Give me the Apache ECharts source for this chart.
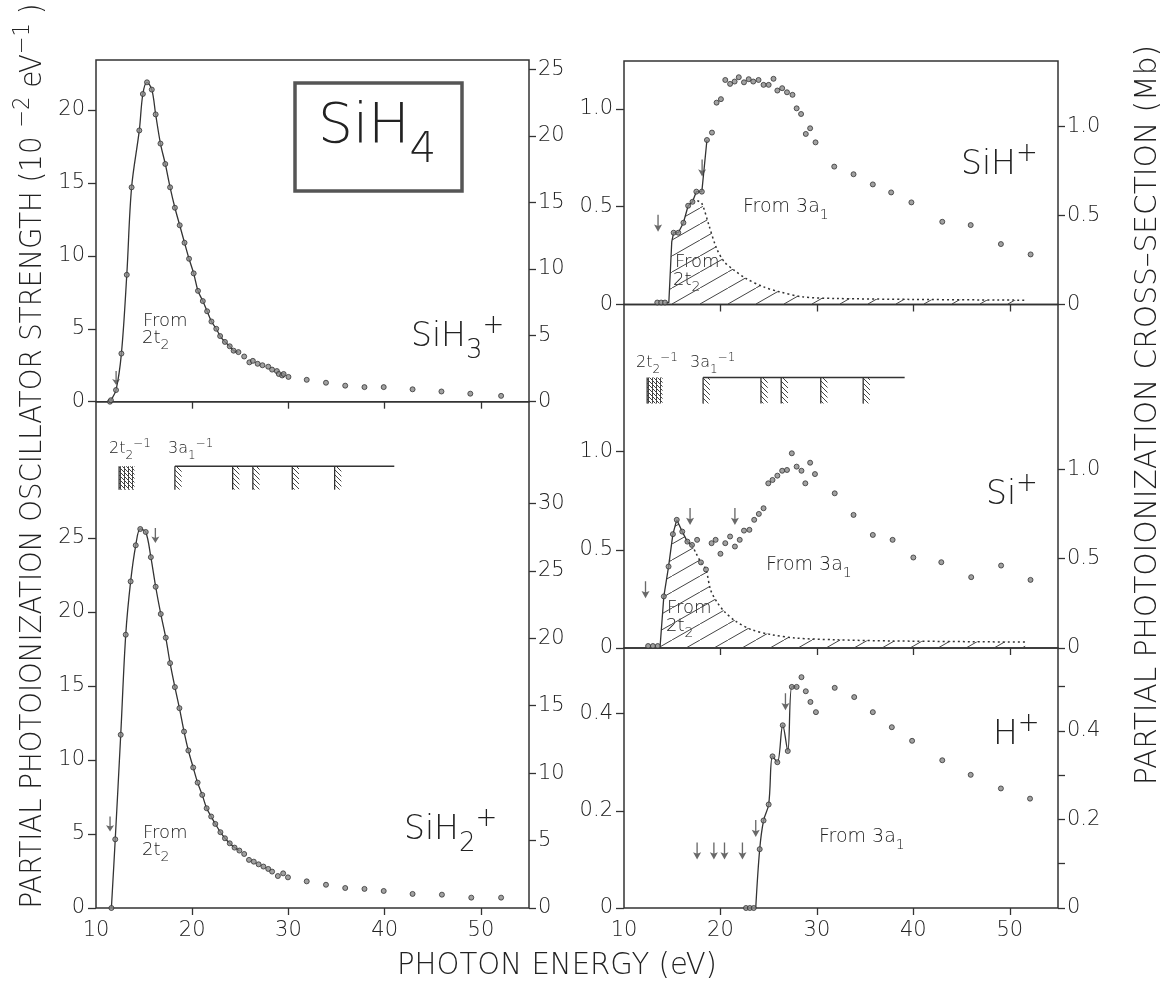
<!DOCTYPE html>
<html>
<head>
<meta charset="utf-8">
<script src="https://cdn.jsdelivr.net/npm/echarts@6/dist/echarts.min.js"></script>
<style>
  html, body { margin: 0; background: #fff; }
  #main { width: 1171px; height: 987px; }
</style>
</head>
<body>
<div id="main"></div>
<script>
// ---------------- data (photon energy in eV) ----------------
// SiH3+  (10^-2 eV^-1)
const siH3E = [11.45, 11.55, 12.08, 12.64, 13.2, 13.7, 14.5, 14.87, 15.3, 15.8, 16.2, 16.7, 17.2, 17.7, 18.2, 18.7,
  19.2, 19.67, 20.15, 20.6, 21.1, 21.55, 22.0, 22.5, 22.9, 23.4, 23.9, 24.3, 24.8, 25.4, 25.94, 26.3, 26.8, 27.3,
  27.9, 28.3, 28.8, 29.0, 29.35, 29.5, 30.0, 31.9, 33.9, 35.9, 37.9, 39.9, 42.9, 45.9, 48.9, 52.1];
const siH3V = [0, 0.1, 0.8, 3.3, 8.7, 14.7, 18.6, 21.1, 21.9, 21.4, 19.7, 17.7, 16.3, 14.7, 13.3, 12.1,
  10.9, 9.8, 8.8, 7.6, 6.9, 6.2, 5.5, 5.0, 4.5, 4.1, 3.8, 3.5, 3.4, 3.1, 2.7, 2.8, 2.6, 2.5,
  2.4, 2.2, 2.1, 1.9, 1.8, 1.9, 1.7, 1.5, 1.3, 1.1, 1.0, 1.0, 0.85, 0.7, 0.55, 0.4];
const siH3LineCount = 29;
const siH3Arrows = [[12.09, 1.14]];

// SiH2+
const siH2E = [11.6, 12.0, 12.57, 13.09, 13.6, 14.13, 14.6, 15.17, 15.7, 16.2, 16.73, 17.25, 17.7, 18.2, 18.67,
  19.15, 19.6, 20.1, 20.56, 21.04, 21.5, 21.97, 22.4, 22.93, 23.4, 23.9, 24.4, 24.9, 25.4, 25.9, 26.4, 26.9,
  27.4, 27.9, 28.3, 28.9, 29.45, 29.95, 31.9, 33.9, 35.9, 37.9, 39.9, 42.9, 45.95, 49.0, 52.1];
const siH2V = [0, 4.64, 11.7, 18.46, 22.06, 24.5, 25.6, 25.4, 23.7, 21.7, 19.86, 18.26, 16.54, 14.92, 13.5,
  11.92, 10.64, 9.49, 8.47, 7.64, 6.74, 6.18, 5.68, 5.12, 4.71, 4.37, 4.08, 3.88, 3.65, 3.25, 3.13, 2.95,
  2.8, 2.64, 2.46, 2.16, 2.34, 2.07, 1.8, 1.57, 1.35, 1.29, 1.15, 0.95, 0.9, 0.7, 0.7];
const siH2LineCount = 28;
const siH2Arrows = [[11.46, 5.16], [16.17, 24.66]];

// SiH+  (left axis in 10^-2 eV^-1)
const siHE = [13.45, 13.85, 14.25, 15.15, 15.63, 16.16, 16.65, 17.1, 17.5, 18.07, 18.6, 19.12, 19.6, 20.05, 20.5,
  21.0, 21.47, 21.9, 22.44, 22.93, 23.4, 23.95, 24.47, 25.0, 25.5, 25.9, 26.4, 26.9, 27.47, 27.9, 28.36, 28.85,
  29.3, 29.86, 31.8, 33.8, 35.8, 37.7, 39.8, 43.0, 45.95, 49.08, 52.16];
const siHV = [0.01, 0.01, 0.01, 0.367, 0.367, 0.418, 0.505, 0.525, 0.577, 0.577, 0.841, 0.879, 1.032, 1.05, 1.148,
  1.128, 1.14, 1.162, 1.136, 1.152, 1.14, 1.148, 1.123, 1.123, 1.154, 1.094, 1.106, 1.085, 1.072, 1.003, 0.974, 0.872,
  0.901, 0.829, 0.705, 0.666, 0.614, 0.573, 0.522, 0.423, 0.406, 0.309, 0.256];
const siHLineE = [14.3, 14.65, 14.95, 15.15, 15.63, 16.16, 16.65, 17.1, 17.5, 18.07, 18.6];
const siHLineV = [0.01, 0.01, 0.32, 0.367, 0.367, 0.418, 0.505, 0.525, 0.577, 0.577, 0.841];
// part coming from the 2t2 orbital (hatched); dotted from index 7
const siH2tE = [14.65, 14.95, 15.15, 15.63, 16.16, 16.65, 17.1, 17.6, 18.07, 18.8, 19.6, 20.4, 21.4, 22.65, 24.47,
  26.1, 28.5, 31.8, 40.0, 51.8];
const siH2tV = [0, 0.32, 0.367, 0.367, 0.418, 0.505, 0.525, 0.53, 0.517, 0.406, 0.287, 0.218, 0.176, 0.133, 0.09,
  0.065, 0.039, 0.031, 0.026, 0.022];
const siH2tDotFrom = 7;
const siHArrows = [[13.53, 0.372], [18.1, 0.654]];

// Si+
const siE = [12.5, 13.0, 13.5, 14.13, 14.62, 15.07, 15.47, 16.04, 16.57, 17.05, 17.58, 17.98, 18.5, 19.08, 19.5,
  20.0, 20.5, 21.0, 21.5, 22.0, 22.44, 23.0, 23.5, 23.98, 24.47, 24.96, 25.4, 25.9, 26.4, 26.9, 27.4, 27.9, 28.4,
  28.8, 29.3, 29.8, 31.85, 33.8, 35.8, 37.85, 40.0, 42.9, 46.0, 49.1, 52.15];
const siV = [0.01, 0.01, 0.01, 0.263, 0.415, 0.58, 0.653, 0.593, 0.542, 0.525, 0.551, 0.436, 0.4, 0.534, 0.551,
  0.48, 0.534, 0.568, 0.517, 0.551, 0.598, 0.602, 0.653, 0.683, 0.712, 0.839, 0.856, 0.878, 0.903, 0.907, 0.992,
  0.924, 0.903, 0.839, 0.944, 0.886, 0.788, 0.678, 0.576, 0.551, 0.461, 0.437, 0.361, 0.42, 0.347];
// 2t2 part: solid up to index 7, dotted after
const si2tE = [13.73, 14.13, 14.62, 15.07, 15.47, 16.04, 16.57, 17.05, 17.5, 17.98, 18.5, 18.97, 19.6, 20.4, 21.6,
  23.25, 25.3, 27.7, 31.8, 37.8, 51.6];
const si2tV = [0, 0.263, 0.415, 0.58, 0.653, 0.593, 0.542, 0.525, 0.48, 0.436, 0.4, 0.297, 0.237, 0.186, 0.136,
  0.093, 0.068, 0.051, 0.042, 0.036, 0.03];
const si2tSolidTo = 7;
const siArrows = [[12.23, 0.254], [16.85, 0.627], [21.5, 0.627]];

// H+
const hE = [22.65, 23.05, 23.45, 24.07, 24.47, 25.0, 25.4, 25.9, 26.46, 26.98, 27.4, 27.9, 28.4, 28.85, 29.33,
  29.9, 31.85, 33.87, 35.8, 37.77, 39.87, 43.0, 45.95, 49.08, 52.1];
const hV = [0, 0, 0, 0.121, 0.18, 0.213, 0.312, 0.30, 0.376, 0.323, 0.455, 0.455, 0.475, 0.446, 0.424,
  0.403, 0.453, 0.434, 0.403, 0.372, 0.344, 0.304, 0.274, 0.246, 0.225];
const hLineE = [23.66, 24.07, 24.47, 25.0, 25.4, 25.9, 26.46, 26.98, 27.4, 27.9];
const hLineV = [0, 0.121, 0.18, 0.213, 0.312, 0.30, 0.376, 0.323, 0.455, 0.455];
const hArrows = [[17.58, 0.1], [19.32, 0.1], [20.42, 0.1], [22.28, 0.1], [23.66, 0.146], [26.74, 0.407]];

// ionization bands (eV)
const band2t2 = [12.4, 14.0];
const band3a1 = [18.2, 24.2, 26.3, 30.4, 34.8];
const bandWidth = 0.7;
// [top, bottom, end of 3a1 line] in panel units
const bandsSiH2 = [29.84, 28.26, 41.0];
const bandsSi = [1.378, 1.246, 39.1];

// axes
const xTicks = [20, 30, 40, 50];
const xLabels = [10, 20, 30, 40, 50];
const leftMax = [23.43, 34.2, 1.245, 1.75, 0.535];
const leftTicks = [[0, 5, 10, 15, 20], [0, 5, 10, 15, 20, 25], [0, 0.5, 1.0], [0, 0.5, 1.0], [0, 0.2, 0.4]];
const rightTicks = [[0, 5, 10, 15, 20, 25], [0, 5, 10, 15, 20, 25, 30], [0, 0.5, 1.0], [0, 0.5, 1.0],
  [0, 0.1, 0.2, 0.3, 0.4, 0.5]];
const rightLabels = [[0, 5, 10, 15, 20, 25], [0, 5, 10, 15, 20, 25, 30], [0, 0.5, 1.0], [0, 0.5, 1.0], [0, 0.2, 0.4]];
const mbPerUnit = 1.0975; // sigma (Mb) = 109.75 df/dE

// ---------------- drawing ----------------
const FAM = '"DejaVu Sans", sans-serif';
const WEIGHT = 200;
const INK = '#222';
const zip = (xs, ys) => xs.map((x, i) => [x, ys[i]]);

function tile(w, h, draw) {
  const c = document.createElement('canvas');
  c.width = w; c.height = h;
  const g = c.getContext('2d');
  g.strokeStyle = '#444'; g.lineWidth = 1;
  draw(g, w, h);
  return c;
}
const areaHatch = { image: tile(28, 16, (g, w, h) => { g.beginPath(); g.moveTo(0, h); g.lineTo(w, 0); g.stroke(); }), repeat: 'repeat' };
const bandHatch = { image: tile(5, 5, (g, w, h) => { g.beginPath(); g.moveTo(0, 0); g.lineTo(w, h); g.stroke(); }), repeat: 'repeat' };
const denseHatch = { image: tile(4, 4, (g, w, h) => {
  g.beginPath(); g.moveTo(0.5, 0); g.lineTo(0.5, h); g.moveTo(0, 0); g.lineTo(w, h); g.stroke();
}), repeat: 'repeat' };

const grids = [
  { left: 96, top: 60, width: 433, height: 341.7 },
  { left: 96, top: 401.7, width: 433, height: 506.3 },
  { left: 624, top: 61, width: 434, height: 243.5 },
  { left: 624, top: 304.5, width: 434, height: 343.5 },
  { left: 624, top: 648, width: 434, height: 260 }
].map(g => Object.assign(g, { show: true, borderColor: '#333', borderWidth: 1.5, containLabel: false }));

const labelFont = { fontFamily: FAM, fontWeight: WEIGHT, fontSize: 21, color: INK };
const fmt = (i) => (v) => (i < 2 || v === 0 ? String(v) : v.toFixed(1));

const xAxis = grids.map((g, i) => ({
  type: 'value', gridIndex: i, min: 10, max: 55,
  axisLine: { show: false }, splitLine: { show: false },
  axisTick: { show: true, length: 7, customValues: xTicks, lineStyle: { color: '#333', width: 1.3 } },
  axisLabel: Object.assign({ show: i === 1 || i === 4, customValues: xLabels, margin: 12 }, labelFont)
}));

const yAxis = [];
grids.forEach((g, i) => {
  yAxis.push({
    type: 'value', gridIndex: i, position: 'left', min: 0, max: leftMax[i],
    axisLine: { show: false }, splitLine: { show: false },
    axisTick: { show: true, length: 8, customValues: leftTicks[i], lineStyle: { color: '#333', width: 1.3 } },
    axisLabel: Object.assign({ customValues: leftTicks[i], margin: 11, formatter: fmt(i) }, labelFont)
  });
  yAxis.push({
    type: 'value', gridIndex: i, position: 'right', min: 0, max: leftMax[i] * mbPerUnit,
    axisLine: { show: false }, splitLine: { show: false },
    axisTick: { show: true, length: 7, customValues: rightTicks[i], lineStyle: { color: '#333', width: 1.3 } },
    axisLabel: Object.assign({ customValues: rightLabels[i], margin: 9, formatter: fmt(i) }, labelFont)
  });
});

function dots(p, xs, ys) {
  return { type: 'scatter', xAxisIndex: p, yAxisIndex: 2 * p, data: zip(xs, ys), symbol: 'circle', symbolSize: 5,
    itemStyle: { color: '#8a8a8a', borderColor: '#333', borderWidth: 1 }, z: 5, silent: true };
}
function curve(p, pts, extra) {
  return Object.assign({ type: 'line', xAxisIndex: p, yAxisIndex: 2 * p, data: pts, showSymbol: false, symbol: 'none',
    lineStyle: { color: '#333', width: 1.3 }, z: 3, silent: true }, extra || {});
}
const arrowPath = 'path://M4.4,0 L5.6,0 L5.6,13 L8.6,11.5 L5,20 L1.4,11.5 L4.4,13 Z';
function arrows(p, pts, len) {
  return { type: 'scatter', xAxisIndex: p, yAxisIndex: 2 * p, data: pts, symbol: arrowPath, symbolSize: [8, len],
    symbolOffset: [0, -len / 2], symbolKeepAspect: false, itemStyle: { color: '#444' }, z: 6, silent: true };
}
function bands(p, lv) {
  const items = [[band2t2[0], band2t2[1], 0]]
    .concat(band3a1.map(e => [e, e + bandWidth, 1]))
    .concat([[band3a1[0], lv[2], 2]]);
  return {
    type: 'custom', xAxisIndex: p, yAxisIndex: 2 * p, data: items, silent: true, z: 4,
    renderItem(params, api) {
      const e0 = api.value(0), e1 = api.value(1), k = api.value(2);
      const a = api.coord([e0, lv[0]]), b = api.coord([e1, lv[1]]);
      const stroke = { stroke: '#333', lineWidth: 1.3 };
      if (k === 2) return { type: 'line', shape: { x1: a[0], y1: a[1], x2: b[0], y2: a[1] }, style: stroke };
      return { type: 'group', children: [
        { type: 'rect', shape: { x: a[0], y: a[1], width: b[0] - a[0], height: b[1] - a[1] },
          style: { fill: k === 0 ? denseHatch : bandHatch } },
        { type: 'line', shape: { x1: a[0], y1: a[1], x2: a[0], y2: b[1] }, style: stroke }
      ] };
    }
  };
}

const siH2tPts = zip(siH2tE, siH2tV);
const si2tPts = zip(si2tE, si2tV);
const hatchArea = { lineStyle: { width: 0, opacity: 0 }, areaStyle: { color: areaHatch, opacity: 1 }, z: 2 };
const dotted = { lineStyle: { color: '#333', width: 1.5, type: [2, 3] } };

const series = [
  curve(0, zip(siH3E, siH3V).slice(0, siH3LineCount), { smooth: 0.35 }),
  dots(0, siH3E, siH3V),
  arrows(0, siH3Arrows, 14),

  curve(1, zip(siH2E, siH2V).slice(0, siH2LineCount), { smooth: 0.35 }),
  dots(1, siH2E, siH2V),
  arrows(1, siH2Arrows, 15),
  bands(1, bandsSiH2),

  curve(2, siH2tPts, hatchArea),
  curve(2, siH2tPts.slice(siH2tDotFrom), Object.assign({ smooth: 0.3 }, dotted)),
  curve(2, zip(siHLineE, siHLineV)),
  dots(2, siHE, siHV),
  arrows(2, siHArrows, 17),

  curve(3, si2tPts, hatchArea),
  curve(3, si2tPts.slice(0, si2tSolidTo + 1)),
  curve(3, si2tPts.slice(si2tSolidTo), Object.assign({ smooth: 0.3 }, dotted)),
  dots(3, siE, siV),
  arrows(3, siArrows, 17),
  bands(3, bandsSi),

  curve(4, zip(hLineE, hLineV), { smooth: 0.35 }),
  dots(4, hE, hV),
  arrows(4, hArrows, 17)
];

// ---------------- text ----------------
const meas = document.createElement('canvas').getContext('2d');
function textW(t, size) { meas.font = WEIGHT + ' ' + size + 'px ' + FAM; return meas.measureText(t).width; }
// parts: [text, 'n' | 'sub' | 'sup']; (x, y) = left end and middle of the base text
function run(x, y, size, parts, small) {
  small = small || 0.76;
  let cx = x;
  const els = [];
  parts.forEach(([t, k]) => {
    const s = k === 'n' ? size : Math.round(size * small);
    const dy = k === 'sub' ? size * 0.42 : k === 'sup' ? -size * 0.34 : 0;
    els.push({ type: 'text', x: cx, y: y + dy, silent: true,
      style: { text: t, fontSize: s, fontFamily: FAM, fontWeight: WEIGHT, fill: INK,
        textAlign: 'left', textVerticalAlign: 'middle', align: 'left', verticalAlign: 'middle' } });
    cx += textW(t, s);
  });
  els.w = cx - x;
  return els;
}
function title(cx, cy, size, parts, len, rot) {
  const els = run(0, 0, size, parts);
  const w = els.w;
  els.forEach(e => { e.x -= w / 2; });
  return { type: 'group', x: cx, y: cy, rotation: rot, scaleX: len / w, children: els };
}

const graphic = [
  { type: 'rect', shape: { x: 295, y: 83, width: 167, height: 108 }, silent: true,
    style: { fill: 'none', stroke: '#555', lineWidth: 3.5 } },
  ...run(318, 128, 55, [['SiH', 'n'], ['4', 'sub']], 0.77),
  ...run(411, 337, 33, [['SiH', 'n'], ['3', 'sub'], ['+', 'sup']], 0.8),
  ...run(404, 830, 33, [['SiH', 'n'], ['2', 'sub'], ['+', 'sup']], 0.8),
  ...run(961, 165, 33, [['SiH', 'n'], ['+', 'sup']], 0.8),
  ...run(986, 495, 33, [['Si', 'n'], ['+', 'sup']], 0.8),
  ...run(993, 735, 33, [['H', 'n'], ['+', 'sup']], 0.8),

  ...run(143, 321, 18, [['From', 'n']]),
  ...run(142, 338, 18, [['2t', 'n'], ['2', 'sub']]),
  ...run(143, 833, 18, [['From', 'n']]),
  ...run(142, 850, 18, [['2t', 'n'], ['2', 'sub']]),
  ...run(675, 262, 18, [['From', 'n']]),
  ...run(673, 280, 18, [['2t', 'n'], ['2', 'sub']]),
  ...run(667, 608, 18, [['From', 'n']]),
  ...run(666, 626, 18, [['2t', 'n'], ['2', 'sub']]),
  ...run(743, 207, 19, [['From 3a', 'n'], ['1', 'sub']]),
  ...run(766, 565, 19, [['From 3a', 'n'], ['1', 'sub']]),
  ...run(819, 837, 19, [['From 3a', 'n'], ['1', 'sub']]),

  ...run(109, 449, 16, [['2t', 'n'], ['2', 'sub'], ['\u22121', 'sup']]),
  ...run(168, 449, 16, [['3a', 'n'], ['1', 'sub'], ['\u22121', 'sup']]),
  ...run(636, 363, 16, [['2t', 'n'], ['2', 'sub'], ['\u22121', 'sup']]),
  ...run(690, 363, 16, [['3a', 'n'], ['1', 'sub'], ['\u22121', 'sup']]),

  title(33, 456, 30, [['PARTIAL PHOTOIONIZATION OSCILLATOR STRENGTH (10 ', 'n'], ['\u22122', 'sup'],
    [' eV', 'n'], ['\u22121', 'sup'], [' )', 'n']], 905, Math.PI / 2),
  title(1148, 415, 30, [['PARTIAL PHOTOIONIZATION CROSS\u2013SECTION (Mb)', 'n']], 740, Math.PI / 2),
  title(557, 966, 31, [['PHOTON ENERGY (eV)', 'n']], 320, 0)
];

const chart = echarts.init(document.getElementById('main'), null, { renderer: 'canvas' });
chart.setOption({
  animation: false,
  backgroundColor: '#fff',
  grid: grids,
  xAxis: xAxis,
  yAxis: yAxis,
  series: series,
  graphic: graphic
});
</script>
</body>
</html>
